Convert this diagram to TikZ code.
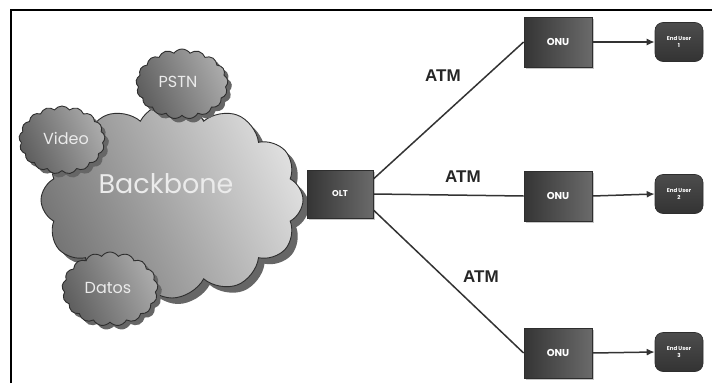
\documentclass[tikz,border=0pt]{standalone}
\usepackage{fontspec}
\setmainfont{Liberation Sans}
\newfontfamily\roundfont{Poppins}
\usetikzlibrary{shapes.symbols,shapes.misc,shadows,arrows.meta,calc}

\definecolor{edgecol}{HTML}{2E2E2E}
\definecolor{boxdark}{HTML}{353535}
\definecolor{boxlight}{HTML}{6A6A6A}
\definecolor{cloudshadow}{HTML}{666666}
\definecolor{bbdark}{HTML}{767676}
\definecolor{bblight}{HTML}{DEDEDE}
\definecolor{smalldark}{HTML}{5E5E5E}
\definecolor{smalllight}{HTML}{ABABAB}
\definecolor{linkcol}{HTML}{333333}

\tikzset{
  cloudbase/.style={cloud, cloud ignores aspect, draw=edgecol, line width=0.9pt,
    inner sep=0pt},
  bigcloud/.style={cloudbase, cloud puffs=12, cloud puff arc=125,
    drop shadow={shadow xshift=6pt, shadow yshift=-6pt, fill=cloudshadow, opacity=1},
    left color=bbdark, right color=bblight, shading angle=115},
  smallcloud/.style={cloudbase, cloud puffs=17, cloud puff arc=110,
    drop shadow={shadow xshift=4pt, shadow yshift=-4pt, fill=cloudshadow, opacity=1},
    left color=smalldark, right color=smalllight, shading angle=115},
  cloudtext/.style={text=white!92!black, font=\roundfont\fontsize{16}{16}\selectfont},
  devbox/.style={draw=edgecol, line width=0.8pt, inner sep=0pt,
    left color=boxdark, right color=boxlight, shading angle=90,
    drop shadow={shadow xshift=2pt, shadow yshift=-2pt, fill=gray!45, opacity=1},
    text=white, font=\roundfont\bfseries\fontsize{10}{10}\selectfont},
  userbox/.style={rectangle, rounded corners=8pt,
    draw=edgecol, line width=0.6pt, inner sep=0pt,
    minimum width=48pt, minimum height=39pt,
    top color=gray!60!black, bottom color=gray!40!black,
    text=white, align=center, font=\roundfont\bfseries\fontsize{5.5}{7.5}\selectfont},
  link/.style={draw=linkcol, line width=1.5pt},
  feed/.style={draw=linkcol, line width=1.5pt, -{Latex[length=8pt,width=7pt]}},
  atm/.style={font=\bfseries\fontsize{17}{17}\selectfont, text=black!85}
}

\begin{document}
\begin{tikzpicture}[x=1pt,y=-1pt]
  \useasboundingbox (0,0) rectangle (712,383);
  \fill[white] (0,0) rectangle (712,383);

  % open frame: left and top edges
  \draw[line width=2pt, black] (11,383) -- (11,10) -- (712,10);

  % core network clouds
  \node[bigcloud, minimum width=262pt, minimum height=196pt] (backbone) at (172,200) {};
  \node[cloudtext, font=\roundfont\fontsize{27}{27}\selectfont] (bbtext) at (166,184) {Backbone};

  \node[smallcloud, minimum width=86pt, minimum height=68pt] (video) at (62,140) {};
  \node[cloudtext] (videotext) at (66,138) {Video};
  \node[smallcloud, minimum width=92pt, minimum height=70pt] (pstn) at (182,84) {};
  \node[cloudtext] (pstntext) at (178,82) {PSTN};
  \node[smallcloud, minimum width=96pt, minimum height=74pt] (datos) at (110,289) {};
  \node[cloudtext] (datostext) at (108,288) {Datos};

  % line terminal and network units
  \node[devbox, minimum width=66pt, minimum height=48pt,
        font=\roundfont\bfseries\fontsize{8.5}{8.5}\selectfont] (olt) at (340,194) {OLT};
  \node[devbox, minimum width=68pt, minimum height=50pt] (onu1) at (558,42) {ONU};
  \node[devbox, minimum width=68pt, minimum height=50pt] (onu2) at (558,196) {ONU};
  \node[devbox, minimum width=68pt, minimum height=50pt] (onu3) at (558,353) {ONU};

  % end users
  \node[userbox] (eu1) at (679,42) {End User\\1};
  \node[userbox] (eu2) at (679,194) {End User\\2};
  \node[userbox] (eu3) at (679,352) {End User\\3};

  % optical links
  \draw[link] ($(olt.east)+(0,-15)$) -- (onu1.west);
  \draw[link] (olt.east) -- (onu2.west);
  \draw[link] ($(olt.east)+(0,16)$) -- (onu3.west);

  \node[atm] (atm1) at (443,76) {ATM};
  \node[atm] (atm2) at (463,177) {ATM};
  \node[atm] (atm3) at (481,277) {ATM};

  % drops to the subscribers
  \draw[feed] (onu1.east) -- (eu1.west);
  \draw[feed] (onu2.east) -- (eu2.west);
  \draw[feed] (onu3.east) -- (eu3.west);
\end{tikzpicture}
\end{document}
